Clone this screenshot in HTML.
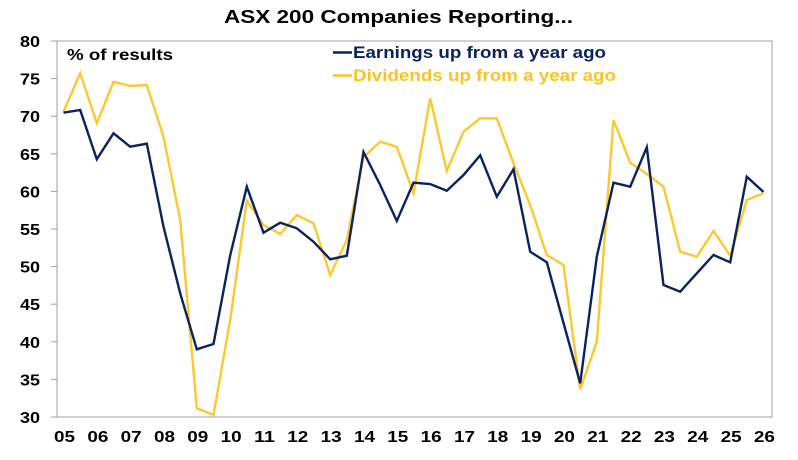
<!DOCTYPE html>
<html><head><meta charset="utf-8"><style>
html,body{margin:0;padding:0;background:#fff;}
svg text{font-family:"Liberation Sans",Arial,sans-serif;font-weight:bold;}
</style></head><body>
<svg id="s" width="798" height="455" viewBox="0 0 798 455" xmlns="http://www.w3.org/2000/svg">
<rect x="0" y="0" width="798" height="455" fill="#fff"/>
<text x="224" y="23" font-size="18" textLength="349" lengthAdjust="spacingAndGlyphs" fill="#000">ASX 200 Companies Reporting...</text>
<rect x="57" y="41" width="715" height="376" fill="none" stroke="#a0a0a0" stroke-width="1"/>
<g id="yl" font-size="16" fill="#000"></g>
<g id="xl" font-size="16" fill="#000"></g>
<text x="67" y="60" font-size="16" textLength="106" lengthAdjust="spacingAndGlyphs" fill="#000">% of results</text>
<line x1="333" y1="52.5" x2="352" y2="52.5" stroke="#0a2260" stroke-width="2.5"/>
<line x1="333" y1="75.5" x2="352" y2="75.5" stroke="#fdc326" stroke-width="2.5"/>
<text x="353" y="58" font-size="16.5" textLength="253" lengthAdjust="spacingAndGlyphs" fill="#0a2260">Earnings up from a year ago</text>
<text x="353" y="81" font-size="16.5" textLength="263" lengthAdjust="spacingAndGlyphs" fill="#fdc326">Dividends up from a year ago</text>
<polyline id="div" fill="none" stroke="#fdc82f" stroke-width="2.4" stroke-linejoin="miter"/>
<polyline id="ear" fill="none" stroke="#0a2260" stroke-width="2.4" stroke-linejoin="miter"/>
</svg>
<script>
var ns="http://www.w3.org/2000/svg";
var yl=document.getElementById('yl'),xl=document.getElementById('xl');
for(var v=30;v<=80;v+=5){var y=417-(v-30)*7.52;
 var l=document.createElementNS(ns,'line');l.setAttribute('x1',51);l.setAttribute('x2',57);l.setAttribute('y1',y);l.setAttribute('y2',y);l.setAttribute('stroke','#a0a0a0');yl.appendChild(l);
 var t=document.createElementNS(ns,'text');t.setAttribute('x',20);t.setAttribute('y',y+6);t.setAttribute('textLength',20);t.setAttribute('lengthAdjust','spacingAndGlyphs');t.textContent=v;yl.appendChild(t);}
for(var k=5;k<=26;k++){var t=document.createElementNS(ns,'text');var cx=64.5+(k-5)*33.33;t.setAttribute('x',cx-10.5);t.setAttribute('y',442);t.setAttribute('textLength',21);t.setAttribute('lengthAdjust','spacingAndGlyphs');t.textContent=(k<10?'0':'')+k;xl.appendChild(t);}
var E=[248,240,388,310,350,341,590,790,958,942,676,470,608,578,595,635,688,677,366,465,573,458,462,482,435,376,500,418,665,697,879,1060,680,458,470,352,765,785,730,675,697,440,486];
var D=[245,130,280,155,168,165,320,570,1135,1155,870,512,585,612,555,580,735,630,382,335,350,490,205,423,305,265,265,400,525,675,705,1078,935,270,398,432,470,665,680,603,677,510,490];
function pts(a){return a.map(function(z,i){return (63.5+16.667*i).toFixed(1)+','+(30+z/3).toFixed(1)}).join(' ');}
document.getElementById('ear').setAttribute('points',pts(E));
document.getElementById('div').setAttribute('points',pts(D));
</script>
</body></html>
